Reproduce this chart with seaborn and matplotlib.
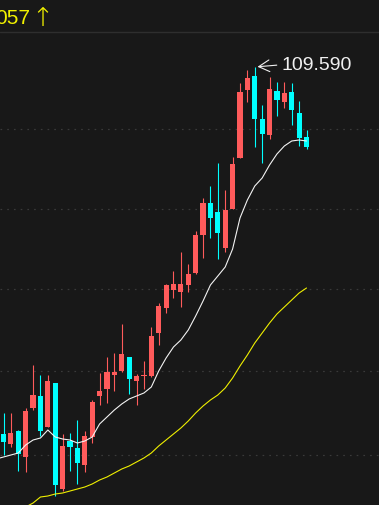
import numpy as np
import pandas as pd
import matplotlib
matplotlib.use("Agg")
import matplotlib.pyplot as plt
import seaborn as sns

# ---- data ----
opens = [72.89, 71.89, 73.19, 70.59, 75.49, 76.69, 73.59, 77.99, 67.39, 72.19,
         71.49, 69.79, 72.59, 76.69, 77.39, 78.79, 79.19, 80.59, 78.19, 78.69,
         78.69, 82.99, 85.49, 87.29, 87.09, 87.79, 88.99, 92.79, 95.99, 95.09,
         91.49, 95.39, 100.49, 107.29, 108.69, 104.39, 102.79, 107.19, 106.09, 107.09,
         104.99, 102.59]
highs = [74.99, 74.99, 73.29, 75.49, 79.79, 78.79, 78.79, 77.99, 72.89, 72.99,
         74.29, 73.19, 76.29, 78.99, 80.59, 80.99, 83.89, 80.59, 78.89, 80.19,
         83.59, 85.99, 87.89, 89.19, 91.09, 89.89, 93.19, 96.49, 97.69, 99.99,
         97.29, 100.59, 107.99, 109.29, 109.59, 105.79, 108.59, 108.09, 108.09, 107.99,
         106.19, 103.29]
lows = [70.79, 71.59, 69.19, 69.09, 75.29, 72.69, 73.59, 66.69, 67.19, 69.19,
        67.89, 69.09, 71.99, 75.79, 75.99, 77.19, 79.09, 76.89, 75.79, 77.39,
        78.59, 81.79, 84.99, 86.49, 85.59, 87.09, 88.89, 90.49, 92.49, 90.39,
        91.09, 95.39, 100.49, 106.09, 101.59, 99.99, 102.39, 104.69, 105.49, 103.79,
        101.69, 101.39]
closes = [72.09, 72.99, 70.89, 75.19, 76.79, 73.19, 78.19, 67.79, 71.69, 71.59,
          69.99, 72.69, 76.09, 77.19, 79.09, 79.09, 80.89, 78.39, 78.69, 78.79,
          82.69, 85.69, 87.79, 87.89, 87.89, 88.89, 92.79, 95.99, 94.49, 92.99,
          95.29, 99.89, 107.09, 108.49, 104.39, 102.89, 107.39, 106.29, 106.99, 105.29,
          102.49, 101.59]

# moving averages, one value per bar position starting one bar before the first candle
ma_index = list(range(-1, 42))
ma_short = [70.39, 70.59, 70.79, 70.99, 71.79, 72.29, 72.49, 73.29, 72.59, 72.39,
            72.29, 71.99, 72.19, 72.59, 73.89, 74.59, 75.29, 75.89, 76.39, 76.69,
            76.99, 77.59, 79.19, 80.49, 81.59, 82.29, 83.29, 84.69, 86.19, 87.79,
            88.69, 89.59, 91.39, 94.49, 96.29, 97.69, 98.49, 99.79, 100.89, 101.69,
            102.19, 102.29, 102.19]
ma_long = [np.nan, np.nan, np.nan, np.nan, 65.59, 65.99, 66.59, 66.69, 66.89, 66.99,
           67.19, 67.39, 67.59, 67.89, 68.29, 68.59, 68.99, 69.39, 69.69, 70.09,
           70.49, 70.99, 71.69, 72.29, 72.89, 73.49, 74.19, 74.99, 75.69, 76.29,
           76.79, 77.49, 78.49, 79.69, 80.79, 81.99, 82.99, 83.99, 84.89, 85.59,
           86.29, 86.99, 87.49]

grid_levels = [103.4, 95.4, 87.4, 79.2, 70.8]
header_value = "057"
header_arrow = "\u2191"
high_label = "109.590"

# ---- style ----
BG = "#181818"
UP = "#ff5b5b"
DOWN = "#00ffff"
sns.set_style("dark", rc={"axes.facecolor": BG, "figure.facecolor": BG})
plt.rcParams["font.family"] = ["Liberation Sans", "DejaVu Sans"]

W, H = 379, 505
fig = plt.figure(figsize=(W / 100, H / 100), dpi=100)
ax = fig.add_axes([0, 0, 1, 1])
ax.set_facecolor(BG)

px = 0.72  # one pixel in points

# grid
for g in grid_levels:
    ax.axhline(g, color="#3a3a3a", lw=1.2 * px, ls=(0, (1.4, 4.2)), zorder=0)
# header separator
ax.axhline(113.09, color="#2e2e2e", lw=1.4 * px, zorder=0)

# candles
n = len(opens)
xs = np.arange(n)
for i in range(n):
    o, h, l, c = opens[i], highs[i], lows[i], closes[i]
    col = UP if c >= o else DOWN
    ax.vlines(xs[i], l, h, color=col, lw=1.1 * px, zorder=2)
    bottom = min(o, c)
    height = max(abs(c - o), 0.1)
    ax.bar(xs[i], height, bottom=bottom, width=0.7, color=col, linewidth=0, zorder=3)

# moving averages
df_ma = pd.DataFrame({"idx": ma_index, "short": ma_short, "long": ma_long})
sns.lineplot(data=df_ma, x="idx", y="short", color="#f4f4f4", lw=1.1 * px, ax=ax,
             zorder=4, estimator=None)
df_long = df_ma.dropna(subset=["long"])
sns.lineplot(data=df_long, x="idx", y="long", color="#f0f000", lw=1.1 * px, ax=ax,
             zorder=4, estimator=None)

# highest-high annotation
hi_i = int(np.argmax(highs))
ax.annotate(high_label, xy=(xs[hi_i], highs[hi_i]), xytext=(19.2, 1.0),
            textcoords="offset points", color="#f0f0f0", fontsize=14, ha="left",
            va="center",
            arrowprops=dict(arrowstyle="->,head_length=0.55,head_width=0.3",
                            color="#f0f0f0", lw=0.8, relpos=(0, 0.55),
                            shrinkA=1.0, shrinkB=2.0), zorder=5)

# header text (partially cut at the left edge, as in the reference)
fig.text(-5 / W, 1 - 24 / H, header_value, color="#f0f000", fontsize=15,
         ha="left", va="baseline")
fig.text(31 / W, 1 - 26 / H, header_arrow, color="#f0f000", fontsize=19,
         ha="left", va="baseline", family=["DejaVu Sans"], fontweight="light")

ax.set_xlim(-0.474, 50.81)
ax.set_ylim(65.79, 116.29)
ax.set_xlabel("")
ax.set_ylabel("")
ax.set_xticks([])
ax.set_yticks([])
for s in ax.spines.values():
    s.set_visible(False)
if ax.get_legend() is not None:
    ax.get_legend().remove()

fig.savefig("out.png", dpi=100, facecolor=BG)
